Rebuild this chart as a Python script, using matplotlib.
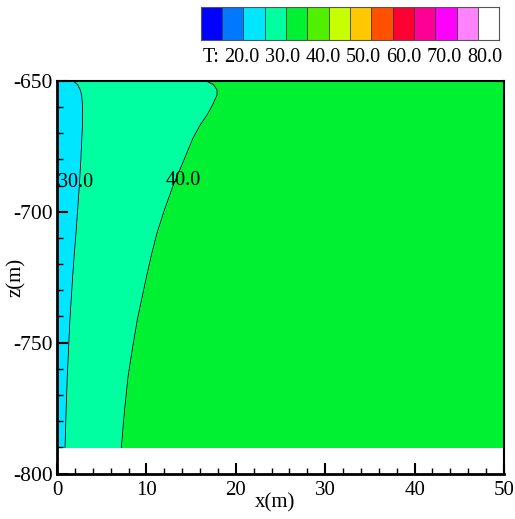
import matplotlib
matplotlib.use('Agg')
import matplotlib.pyplot as plt

plt.rcParams['font.family'] = ['Liberation Serif', 'DejaVu Serif']
plt.rcParams['font.size'] = 15
plt.rcParams['axes.unicode_minus'] = False

# isotherm positions (x in m at depth z)
z = [-650, -651.5, -653.5, -655.5, -659.3, -663, -667, -672, -679.5, -690, -699, -708, -716, -725, -733, -741, -752, -763, -776, -790]
x30 = [1.8, 2.3, 2.6, 2.76, 2.85, 2.87, 2.85, 2.78, 2.68, 2.5, 2.32, 2.13, 1.94, 1.75, 1.6, 1.45, 1.3, 1.15, 1.02, 0.9]
x40 = [16.6, 17.5, 17.9, 17.9, 17.4, 16.8, 16.0, 15.2, 14.3, 13.0, 12.05, 11.2, 10.6, 10.0, 9.5, 9.0, 8.45, 7.95, 7.55, 7.2]

# legend colours (14 bands) and labels
legend_colors = ['#0000ff', '#0078ff', '#00e6ff', '#00ffa0', '#00f032', '#50f000', '#c8ff00',
                 '#ffc800', '#ff5000', '#ff0032', '#ff0096', '#ff00ff', '#ff82ff', '#ffffff']
legend_labels = ['20.0', '30.0', '40.0', '50.0', '60.0', '70.0', '80.0']
fill_cold, fill_mid, fill_warm = legend_colors[2], legend_colors[3], legend_colors[4]

fig = plt.figure(figsize=(5.15, 5.19), dpi=100)
ax = fig.add_axes([0.1107, 0.0873, 0.8679, 0.7572])

ax.fill_betweenx(z, 0, x30, color=fill_cold, lw=0)
ax.fill_betweenx(z, x30, x40, color=fill_mid, lw=0)
ax.fill_betweenx(z, x40, 50, color=fill_warm, lw=0)
ax.plot(x30, z, color='k', lw=0.6)
ax.plot(x40, z, color='k', lw=0.6)
ax.text(2.1, -689, '30.0', ha='center', va='center', fontsize=14.5, clip_on=True)
ax.text(14.1, -688, '40.0', ha='center', va='center', fontsize=14.5, clip_on=True)

ax.set_xlim(0, 50)
ax.set_ylim(-800, -650)
ax.set_xticks([0, 10, 20, 30, 40, 50])
ax.set_xticks(range(0, 51, 2), minor=True)
ax.set_yticks([-800, -750, -700, -650])
ax.set_yticks(range(-800, -649, 10), minor=True)
ax.tick_params(direction='in', which='major', length=8, width=1.5)
ax.tick_params(axis='x', which='major', pad=5)
ax.tick_params(axis='y', which='major', pad=3, labelsize=15.5)
ax.tick_params(direction='in', which='minor', length=4, width=1)
for s in ['left', 'bottom']:
    ax.spines[s].set_linewidth(2)
for s in ['right', 'top']:
    ax.spines[s].set_linewidth(1.5)
ax.set_xlabel('x(m)')
ax.set_ylabel('z(m)')
ax.xaxis.set_label_coords(0.488, -0.05)
ax.yaxis.set_label_coords(-0.07, 0.5)

# contour legend
cax = fig.add_axes([0.3897, 0.9229, 0.5798, 0.0636])
for i, c in enumerate(legend_colors):
    cax.bar(i + 0.5, 1, width=1, color=c, edgecolor='#333333', linewidth=0.5)
cax.set_xlim(0, len(legend_colors))
cax.set_ylim(0, 1)
cax.set_xticks([])
cax.set_yticks([])
for s in cax.spines.values():
    s.set_linewidth(0.8)
    s.set_color('#555555')

fig.text(211 / 515, 1 - 57 / 519, 'T:', ha='center', va='center', fontsize=14.5)
for i, lab in enumerate(legend_labels):
    fig.text((242 + 40.5 * i) / 515, 1 - 57 / 519, lab, ha='center', va='center', fontsize=14.5)

plt.savefig('out.png', dpi=100)
